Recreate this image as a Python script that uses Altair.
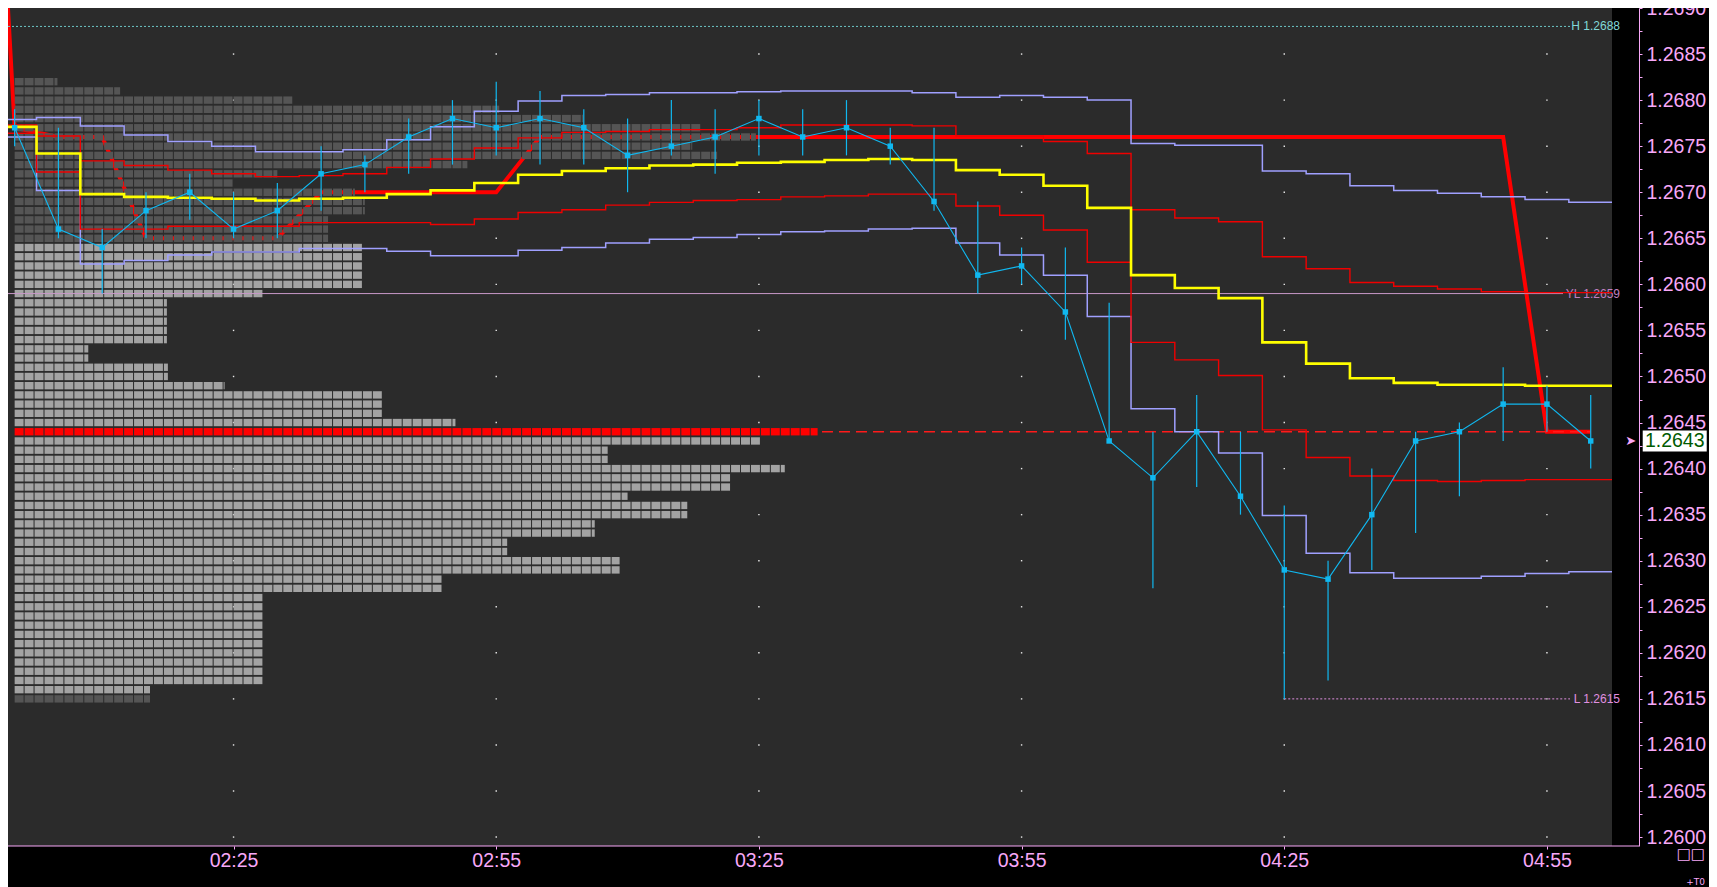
import altair as alt
import pandas as pd

# ---------------- data ----------------
bar_times = ["02:00","02:05","02:10","02:15","02:20","02:25","02:30","02:35","02:40","02:45",
             "02:50","02:55","03:00","03:05","03:10","03:15","03:20","03:25","03:30","03:35",
             "03:40","03:45","03:50","03:55","04:00","04:05","04:10","04:15","04:20","04:25",
             "04:30","04:35","04:40","04:45","04:50","04:55","05:00"]
close = [1.2677,1.2666,1.2664,1.2668,1.2670,1.2666,1.2668,1.2672,1.2673,1.2676,
         1.2678,1.2677,1.2678,1.2677,1.2674,1.2675,1.2676,1.2678,1.2676,1.2677,
         1.2675,1.2669,1.2661,1.2662,1.2657,1.2643,1.2639,1.2644,1.2637,1.2629,
         1.2628,1.2635,1.2643,1.2644,1.2647,1.2647,1.2643]
high = [1.2679,1.2677,1.2666,1.2670,1.2672,1.2670,1.2671,1.2675,1.2674,1.2678,
        1.2680,1.2682,1.2681,1.2679,1.2678,1.2680,1.2679,1.2680,1.2679,1.2680,
        1.2677,1.2677,1.2669,1.2664,1.2664,1.2658,1.2644,1.2648,1.2644,1.2636,
        1.2630,1.2640,1.2644,1.2645,1.2651,1.2649,1.2648]
low = [1.2675,1.2665,1.2659,1.2665,1.2667,1.2665,1.2665,1.2668,1.2670,1.2672,
       1.2673,1.2674,1.2673,1.2673,1.2670,1.2674,1.2672,1.2674,1.2674,1.2674,
       1.2673,1.2668,1.2659,1.2660,1.2654,1.2643,1.2627,1.2638,1.2635,1.2615,
       1.2617,1.2629,1.2633,1.2637,1.2643,1.2644,1.2640]
vwap = [1.26771,1.26742,1.26698,1.26695,1.26694,1.26693,1.26691,1.26693,1.26694,1.26698,
        1.26702,1.26710,1.26719,1.26723,1.26726,1.26729,1.26730,1.26732,1.26733,1.26735,
        1.26736,1.26735,1.26724,1.26719,1.26707,1.26683,1.26610,1.26596,1.26585,1.26537,
        1.26514,1.26498,1.26493,1.26491,1.26491,1.26490,1.26490]
band1_up = [1.26773,1.26761,1.26734,1.26729,1.26724,1.26720,1.26717,1.26718,1.26720,1.26727,
            1.26736,1.26748,1.26759,1.26765,1.26766,1.26768,1.26768,1.26770,1.26773,1.26773,
            1.26773,1.26772,1.26761,1.26761,1.26755,1.26742,1.26681,1.26672,1.26668,1.26630,
            1.26617,1.26602,1.26598,1.26595,1.26592,1.26591,1.26591]
band1_dn = [1.26764,1.26722,1.26660,1.26660,1.26663,1.26663,1.26663,1.26667,1.26667,1.26667,
            1.26665,1.26671,1.26678,1.26681,1.26686,1.26689,1.26691,1.26692,1.26695,1.26696,
            1.26698,1.26698,1.26685,1.26675,1.26659,1.26624,1.26537,1.26518,1.26501,1.26442,
            1.26412,1.26392,1.26387,1.26386,1.26387,1.26388,1.26388]
band2_up = [1.26779,1.26781,1.26772,1.26762,1.26755,1.26750,1.26744,1.26744,1.26746,1.26757,
            1.26771,1.26788,1.26799,1.26805,1.26806,1.26808,1.26808,1.26809,1.26810,1.26810,
            1.26810,1.26808,1.26803,1.26805,1.26803,1.26800,1.26753,1.26751,1.26751,1.26723,
            1.26720,1.26707,1.26702,1.26699,1.26695,1.26692,1.26689]
band2_dn = [1.26760,1.26702,1.26622,1.26626,1.26632,1.26635,1.26635,1.26639,1.26639,1.26636,
            1.26631,1.26631,1.26637,1.26640,1.26645,1.26649,1.26651,1.26654,1.26657,1.26658,
            1.26660,1.26661,1.26645,1.26632,1.26610,1.26565,1.26465,1.26440,1.26417,1.26349,
            1.26308,1.26287,1.26281,1.26281,1.26283,1.26286,1.26288]
dev_poc_prev_time = "01:55"
dev_poc_prev = 1.2762
dev_poc = [1.2677,1.2676,1.2676,1.2665,1.2665,1.2665,1.2665,1.2670,1.2670,1.2670,
           1.2670,1.2670,1.2676,1.2676,1.2676,1.2676,1.2676,1.2676,1.2676,1.2676,
           1.2676,1.2676,1.2676,1.2676,1.2676,1.2676,1.2676,1.2676,1.2676,1.2676,
           1.2676,1.2676,1.2676,1.2676,1.2676,1.2644,1.2644]

# market profile (price level -> width in TPO cells)
profile_prices = [1.2682,1.2681,1.2680,1.2679,1.2678,1.2677,1.2676,1.2675,1.2674,1.2673,
                  1.2672,1.2671,1.2670,1.2669,1.2668,1.2667,1.2666,1.2665,1.2664,1.2663,
                  1.2662,1.2661,1.2660,1.2659,1.2658,1.2657,1.2656,1.2655,1.2654,1.2653,
                  1.2652,1.2651,1.2650,1.2649,1.2648,1.2647,1.2646,1.2645,1.2644,1.2643,
                  1.2642,1.2641,1.2640,1.2639,1.2638,1.2637,1.2636,1.2635,1.2634,1.2633,
                  1.2632,1.2631,1.2630,1.2629,1.2628,1.2627,1.2626,1.2625,1.2624,1.2623,
                  1.2622,1.2621,1.2620,1.2619,1.2618,1.2617,1.2616,1.2615]
profile_widths = [4.3,10.6,27.9,48.7,57.1,68.9,74.5,68.1,70.6,45.5,
                  26.4,21.9,34.2,35.2,35.2,31.5,31.5,31.5,34.9,34.9,
                  34.9,34.9,34.9,24.9,15.3,15.3,15.3,15.3,15.3,7.4,
                  7.4,15.4,15.4,21.1,36.9,36.9,36.9,44.3,80.7,75.0,
                  59.6,59.6,77.4,71.9,71.9,61.6,67.6,67.6,58.3,58.3,
                  49.5,49.5,60.8,60.8,42.9,42.9,24.9,24.9,24.9,24.9,
                  24.9,24.9,24.9,24.9,24.9,24.9,13.6,13.6]
poc_price = 1.2644
va_high = 1.2664
va_low = 1.2616

day_high = 1.2688
yday_low = 1.2659
day_low = 1.2615
day_low_time = "04:25"

x_tick_labels = ["02:25","02:55","03:25","03:55","04:25","04:55"]
y_labels = [1.2600,1.2605,1.2610,1.2615,1.2620,1.2625,1.2630,1.2635,1.2640,1.2645,
            1.2650,1.2655,1.2660,1.2665,1.2670,1.2675,1.2680,1.2685,1.2690]

# ---------------- helpers ----------------
def to_min(s):
    h, m = s.split(":")
    return int(h) * 60 + int(m)

t = [to_min(s) for s in bar_times]
x_ticks = [to_min(s) for s in x_tick_labels]
y_minor = [round((a + b) / 2, 5) for a, b in zip(y_labels[:-1], y_labels[1:])]
y_axis_values = sorted(y_labels + y_minor)

W, H = 1604, 838
PINK = "#f8a8f8"
BAR = 5.0
CELL = 10 / 8.8  # minutes per profile cell

xs = alt.Scale(domain=[119.24, 302.43], nice=False, zero=False)
ys = alt.Scale(domain=[1.259903, 1.2690], nice=False, zero=False)

xax = alt.Axis(values=x_ticks, title=None, grid=False, domain=False,
               labelExpr="(floor(datum.value/60) < 10 ? '0' : '') + floor(datum.value/60) + ':' + "
                         "(datum.value % 60 < 10 ? '0' : '') + (datum.value % 60)",
               tickColor=PINK, tickSize=3, labelColor=PINK, labelFontSize=19.5,
               labelFont="Liberation Sans", labelPadding=2, labelOverlap=False, labelFlush=False)
yax = alt.Axis(orient="right", offset=27, values=y_axis_values, title=None, grid=False,
               labelExpr="round(datum.value*20000) % 2 == 0 ? format(datum.value, '.4f') : ''",
               domainColor=PINK, tickColor=PINK, tickSize=3, labelColor=PINK,
               labelFontSize=19.5, labelFont="Liberation Sans", labelPadding=4,
               labelOverlap=False, labelFlush=False)

def X(f):
    return alt.X(f, type="quantitative", scale=xs, axis=xax)

def Y(f):
    return alt.Y(f, type="quantitative", scale=ys, axis=yax)

# ---------------- tables ----------------
bars = pd.DataFrame({"t": t, "close": close, "high": high, "low": low})

def step_df(series):
    rows = [{"x": ti - BAR / 2, "v": v} for ti, v in zip(t, series)]
    rows.append({"x": t[-1] + BAR / 2, "v": series[-1]})
    return pd.DataFrame(rows)

band2 = pd.concat([step_df(band2_up).assign(s="up"), step_df(band2_dn).assign(s="dn")])
band1 = pd.concat([step_df(band1_up).assign(s="up"), step_df(band1_dn).assign(s="dn")])
vw = step_df(vwap)
dpoc = pd.DataFrame({"t": [to_min(dev_poc_prev_time)] + t, "v": [dev_poc_prev] + dev_poc})

cells = []
x0p = t[0]
for p, w in zip(profile_prices, profile_widths):
    if abs(p - poc_price) < 1e-9:
        kind = "poc"
    elif va_low - 1e-9 <= p <= va_high + 1e-9:
        kind = "va"
    else:
        kind = "out"
    n = int(w)
    for k in range(n):
        a = x0p + k * CELL
        cells.append({"x": a, "x2": a + 0.9 * CELL, "y": p - 0.00004, "y2": p + 0.00004, "kind": kind})
    frac = w - n
    if frac > 0.05:
        a = x0p + n * CELL
        cells.append({"x": a, "x2": a + min(frac, 0.9) * CELL, "y": p - 0.00004, "y2": p + 0.00004, "kind": kind})
cells = pd.DataFrame(cells)

poc_w = profile_widths[profile_prices.index(poc_price)]
poc_ext = pd.DataFrame({"x": [x0p + poc_w * CELL + 0.5], "x2": [t[-1]], "y": [poc_price]})

dots = pd.DataFrame([{"x": xv, "y": yv} for xv in x_ticks for yv in y_labels[:-1]])

last = pd.DataFrame({"t": [t[-1]], "p": [close[-1]], "label": [f"{close[-1]:.4f}"]})

# ---------------- layers ----------------
bg_dots = alt.Chart(dots).mark_square(size=2, color="#ffffff", opacity=0.9).encode(x=X("x"), y=Y("y"))

poc_line = alt.Chart(dpoc).mark_line(color="#ff0000", strokeWidth=4, clip=True).encode(x=X("t"), y=Y("v"))

profile = alt.Chart(cells).mark_rect(strokeWidth=0).encode(
    x=X("x"), x2="x2", y=Y("y"), y2="y2",
    color=alt.Color("kind:N", legend=None,
                    scale=alt.Scale(domain=["out", "va", "poc"], range=["#555555", "#a3a3a3", "#ff0000"])))

poc_ext_line = alt.Chart(poc_ext).mark_rule(color="#ff1a1a", strokeWidth=1.5, strokeDash=[11, 6]).encode(
    x=X("x"), x2="x2", y=Y("y"))

hl = pd.DataFrame({"p": [day_high]})
yl = pd.DataFrame({"p": [yday_low]})
ll = pd.DataFrame({"p": [day_low], "t": [to_min(day_low_time)]})

h_line = alt.Chart(hl).mark_rule(color="#6cc4c4", strokeWidth=1, strokeDash=[2, 2]).encode(
    x=alt.value(0), x2=alt.value(W - 42), y=Y("p"))
h_txt = alt.Chart(hl).mark_text(align="right", baseline="middle", color="#80d8d8", fontSize=12,
                                font="Liberation Sans", text=f"H {day_high:.4f}").encode(x=alt.value(W + 8), y=Y("p"))
yl_line = alt.Chart(yl).mark_rule(color="#c898c8", strokeWidth=1).encode(
    x=alt.value(0), x2=alt.value(W - 49), y=Y("p"))
yl_txt = alt.Chart(yl).mark_text(align="right", baseline="middle", color="#c080c0", fontSize=12,
                                 font="Liberation Sans", text=f"YL {yday_low:.4f}").encode(x=alt.value(W + 8), y=Y("p"))
l_line = alt.Chart(ll).mark_rule(color="#e090e0", strokeWidth=1, strokeDash=[2, 2]).encode(
    x=X("t"), x2=alt.value(W - 42), y=Y("p"))
l_txt = alt.Chart(ll).mark_text(align="right", baseline="middle", color="#e090e0", fontSize=12,
                                font="Liberation Sans", text=f"L {day_low:.4f}").encode(x=alt.value(W + 8), y=Y("p"))

lav = alt.Chart(band2).mark_line(color="#a0a0ff", strokeWidth=1.5, interpolate="step-after", clip=True).encode(
    x=X("x"), y=Y("v"), detail="s:N")
red = alt.Chart(band1).mark_line(color="#f00000", strokeWidth=1.4, interpolate="step-after", clip=True).encode(
    x=X("x"), y=Y("v"), detail="s:N")
yel = alt.Chart(vw).mark_line(color="#ffff00", strokeWidth=2.6, interpolate="step-after", clip=True).encode(
    x=X("x"), y=Y("v"))

wicks = alt.Chart(bars).mark_rule(color="#10b8f0", strokeWidth=1.2).encode(x=X("t"), y=Y("low"), y2="high")
cl_line = alt.Chart(bars).mark_line(color="#10b8f0", strokeWidth=1.1).encode(x=X("t"), y=Y("close"))
cl_pts = alt.Chart(bars).mark_square(size=30, color="#10b8f0", opacity=1).encode(x=X("t"), y=Y("close"))

box = alt.Chart(last).mark_point(shape="M5.2,-1.05L11.6,-1.05L11.6,1.05L5.2,1.05Z", size=400,
                                 filled=True, fill="#ffffff", strokeWidth=0, opacity=1).encode(x=X("t"), y=Y("p"))
box_txt = alt.Chart(last).mark_text(dx=84, align="center", baseline="middle", color="#005a00",
                                    fontSize=19.5, font="Liberation Sans").encode(x=X("t"), y=Y("p"), text="label:N")
arrow = alt.Chart(last).mark_text(dx=40, align="center", baseline="middle", color=PINK, fontSize=13,
                                  font="DejaVu Sans", text="➤").encode(x=X("t"), y=Y("p"))

bottom_line = alt.Chart(last).mark_rule(color=PINK, strokeWidth=1).encode(
    x=alt.value(0), x2=alt.value(W + 27), y=alt.value(H))
boxes_txt = alt.Chart(last).mark_text(align="right", baseline="top", color=PINK, fontSize=15,
                                      font="DejaVu Sans", text="□□").encode(x=alt.value(W + 93), y=alt.value(H + 1))
t0_txt = alt.Chart(last).mark_text(align="right", baseline="bottom", color=PINK, fontSize=9,
                                   font="DejaVu Sans", text="+T0").encode(x=alt.value(W + 93), y=alt.value(H + 41))

chart = alt.layer(
    bg_dots, poc_line, profile, poc_ext_line,
    yl_line, h_line, l_line, h_txt, yl_txt, l_txt,
    lav, red, yel,
    wicks, cl_line, cl_pts,
    box, box_txt, arrow, bottom_line, boxes_txt, t0_txt,
).properties(
    width=W, height=H,
    autosize=alt.AutoSizeParams(type="none"),
    padding={"left": 0, "top": 0, "right": 97, "bottom": 41},
    background="#000000",
).configure_view(fill="#2b2b2b", strokeWidth=0)

chart.save("out.html", embed_options={"renderer": "svg", "actions": False})
